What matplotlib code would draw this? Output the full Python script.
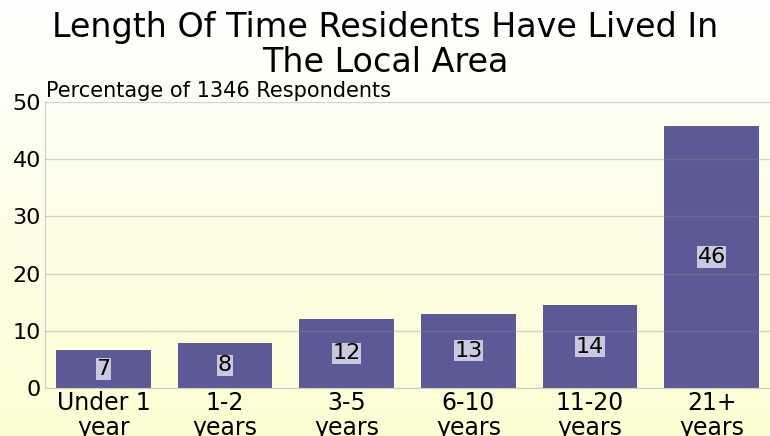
import numpy as np
import matplotlib
matplotlib.use("Agg")
import matplotlib.pyplot as plt
from matplotlib.colors import LinearSegmentedColormap

# datos
categorias = ["Under 1\nyear", "1-2\nyears", "3-5\nyears", "6-10\nyears", "11-20\nyears", "21+\nyears"]
porcentajes = [6.7, 7.9, 12.1, 13.0, 14.5, 45.8]
etiquetas = ["7", "8", "12", "13", "14", "46"]

fig = plt.figure(figsize=(7.70, 4.36), dpi=100)

# fondo con degradado blanco -> amarillo claro
bg = fig.add_axes([0, 0, 1, 1], zorder=-10)
grad = np.linspace(0, 1, 256).reshape(-1, 1)
cmap_bg = LinearSegmentedColormap.from_list("bg", ["#ffffff", "#fdfde8", "#fefed4"])
bg.imshow(grad, aspect="auto", cmap=cmap_bg, extent=[0, 1, 0, 1], origin="upper")
bg.set_axis_off()

ax = fig.add_axes([45/770, 1 - 388/436, 1 - 45/770, 286/436])
ax.patch.set_alpha(0)

x = np.arange(len(categorias))
ax.bar(x, porcentajes, width=0.78, color="#5c5a96", zorder=2)

for xi, v, lab in zip(x, porcentajes, etiquetas):
    ax.text(xi, v / 2, lab, ha="center", va="center", fontsize=16, color="black", zorder=4,
            bbox=dict(boxstyle="square,pad=0.03", fc="#cac8de", ec="none"))

ax.set_ylim(0, 50)
ax.set_xlim(-0.48, 5.48)
ax.set_yticks([0, 10, 20, 30, 40, 50])
ax.yaxis.grid(True, color="#888888", alpha=0.35, linewidth=1, zorder=3)
ax.set_axisbelow(False)
ax.set_xticks(x)
ax.set_xticklabels(categorias, fontsize=17, linespacing=1.05)
ax.tick_params(axis="y", labelsize=16, length=0, pad=3)
ax.tick_params(axis="x", length=0, pad=2)
for s in ["top", "right"]:
    ax.spines[s].set_visible(False)
ax.spines["left"].set_color("#cccccc")
ax.spines["bottom"].set_color("#cccccc")

fig.text(46/770, 1 - 91/436, "Percentage of 1346 Respondents", fontsize=15, va="center", ha="left")
fig.text(0.5, 1 - 45/436, "Length Of Time Residents Have Lived In\nThe Local Area", fontsize=24,
         ha="center", va="center", linespacing=1.05)

fig.savefig("out.png", dpi=100)
